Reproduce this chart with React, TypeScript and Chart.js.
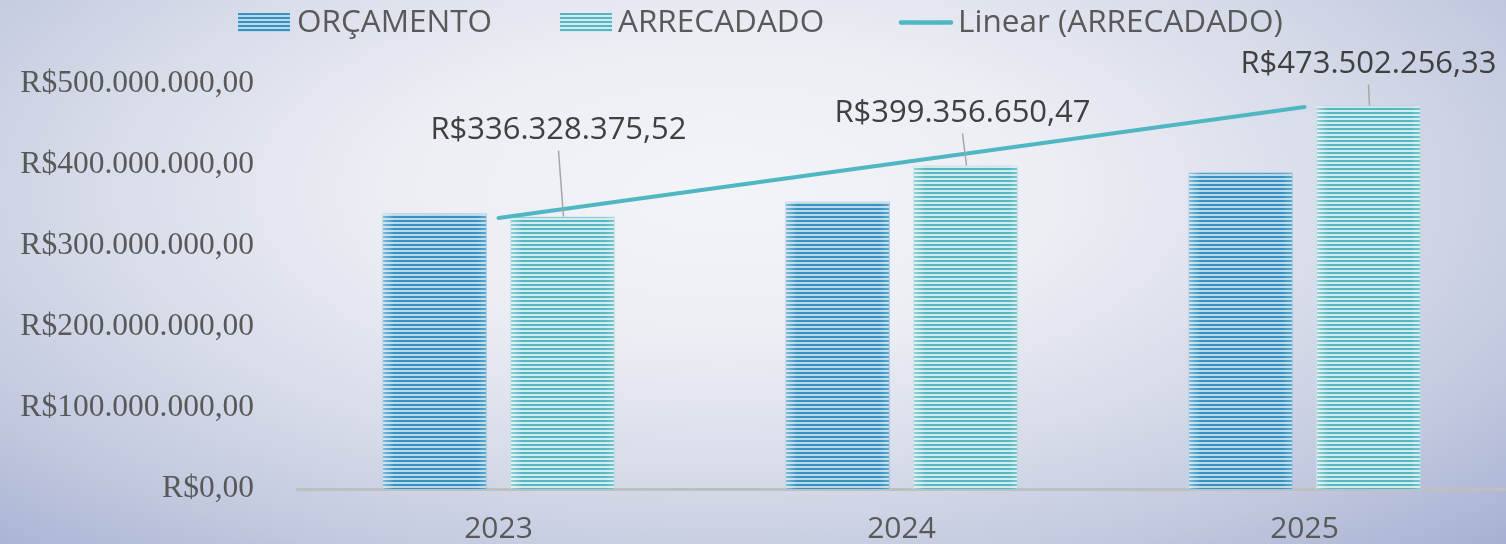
import React, { useEffect, useRef } from "react";
import { Chart, registerables } from "chart.js";

Chart.register(...registerables);

const categories = ["2023", "2024", "2025"];
const seriesNames = ["ORÇAMENTO", "ARRECADADO", "Linear (ARRECADADO)"];
const orcamento = [340500000, 355000000, 391000000];
const arrecadado = [336328375.52, 399356650.47, 473502256.33];
const tendencia = [334475487.03, 403062427.44, 471649367.85];
const arrecadadoLabels = ["R$336.328.375,52", "R$399.356.650,47", "R$473.502.256,33"];
const yTickValues = [0, 100000000, 200000000, 300000000, 400000000, 500000000];
const yTickLabels = [
  "R$0,00",
  "R$100.000.000,00",
  "R$200.000.000,00",
  "R$300.000.000,00",
  "R$400.000.000,00",
  "R$500.000.000,00",
];

// label placement (pixel offsets from bar top, styling only)
const labelDx = [-4, -3, 0];
const labelDy = [-86, -52, -41];
// legend layout (styling only): swatch start, swatch width, text start
const legendSwatchX = [238, 560, 899];
const legendSwatchW = [52, 52, 54];
const legendTextX = [297, 618, 958];

const SANS = "'Open Sans', 'DejaVu Sans', sans-serif";
const SERIF = "'Liberation Serif', 'DejaVu Serif', serif";

const BLUE = "#3592c1";
const BLUE_LIGHT = "#bcd9e9";
const TEAL = "#55b7c1";
const TEAL_LIGHT = "#d2ebee";
const TREND = "#4fb7c2";

function stripe(dark: string, light: string): CanvasPattern {
  const c = document.createElement("canvas");
  c.width = 4;
  c.height = 4;
  const g = c.getContext("2d")!;
  g.fillStyle = light;
  g.fillRect(0, 0, 4, 4);
  g.fillStyle = dark;
  g.fillRect(0, 0, 4, 2);
  return g.createPattern(c, "repeat")!;
}

function stripeSwatch(ctx: CanvasRenderingContext2D, x: number, y: number, w: number, h: number, dark: string, light: string) {
  ctx.fillStyle = light;
  ctx.fillRect(x, y, w, h);
  ctx.fillStyle = dark;
  for (let yy = y; yy < y + h; yy += 4) ctx.fillRect(x, yy, w, Math.min(2, y + h - yy));
}

const overlayPlugin = {
  id: "overlayPlugin",
  afterDatasetDraw(chart: any, args: any) {
    if (args.index > 1) return;
    const ctx = chart.ctx as CanvasRenderingContext2D;
    const meta = chart.getDatasetMeta(args.index);
    ctx.save();
    meta.data.forEach((bar: any) => {
      const p = bar.getProps(["x", "y", "base", "width"], true);
      if (!isFinite(p.width) || !isFinite(p.x)) return;
      const l = p.x - p.width / 2;
      const g = ctx.createLinearGradient(l, 0, l + p.width, 0);
      g.addColorStop(0, "rgba(255,255,255,0.4)");
      g.addColorStop(0.12, "rgba(255,255,255,0)");
      g.addColorStop(0.9, "rgba(255,255,255,0)");
      g.addColorStop(1, "rgba(255,255,255,0.22)");
      ctx.fillStyle = g;
      ctx.fillRect(l, p.y, p.width, p.base - p.y);
    });
    ctx.restore();
  },
  afterDatasetsDraw(chart: any) {
    const ctx = chart.ctx as CanvasRenderingContext2D;
    const meta = chart.getDatasetMeta(1);
    ctx.save();
    ctx.font = `31px ${SANS}`;
    ctx.textAlign = "center";
    ctx.textBaseline = "middle";
    meta.data.forEach((bar: any, i: number) => {
      const p = bar.getProps(["x", "y"], true);
      const lx = p.x + labelDx[i];
      const ly = p.y + labelDy[i];
      ctx.strokeStyle = "#a6a6a6";
      ctx.lineWidth = 1.5;
      ctx.beginPath();
      ctx.moveTo(lx, ly + 20);
      ctx.lineTo(p.x + 1, p.y);
      ctx.stroke();
      ctx.fillStyle = "#404040";
      ctx.fillText(arrecadadoLabels[i], lx, ly);
    });
    ctx.restore();
  },
  afterDraw(chart: any) {
    const ctx = chart.ctx as CanvasRenderingContext2D;
    ctx.save();
    ctx.font = `31.5px ${SANS}`;
    ctx.textBaseline = "middle";
    ctx.textAlign = "left";
    const cy = 23;
    const swatches = [
      { kind: "box", dark: BLUE, light: BLUE_LIGHT },
      { kind: "box", dark: TEAL, light: TEAL_LIGHT },
      { kind: "line", dark: TREND, light: TREND },
    ];
    swatches.forEach((s, i) => {
      const x = legendSwatchX[i];
      const w = legendSwatchW[i];
      if (s.kind === "box") {
        stripeSwatch(ctx, x, 13, w, 19, s.dark, s.light);
      } else {
        ctx.strokeStyle = s.dark;
        ctx.lineWidth = 4.5;
        ctx.lineCap = "round";
        ctx.beginPath();
        ctx.moveTo(x + 2, 22.5);
        ctx.lineTo(x + w - 2, 22.5);
        ctx.stroke();
      }
      ctx.fillStyle = "#595959";
      ctx.fillText(seriesNames[i], legendTextX[i], cy);
    });
    ctx.restore();
  },
};

export default function App() {
  const ref = useRef<HTMLCanvasElement | null>(null);

  useEffect(() => {
    if (!ref.current) return;
    const chart = new Chart(ref.current, {
      type: "bar",
      data: {
        labels: categories,
        datasets: [
          {
            label: seriesNames[0],
            data: orcamento,
            backgroundColor: stripe(BLUE, BLUE_LIGHT),
            borderColor: "rgba(120,180,212,0.7)",
            borderWidth: 1,
            order: 1,
          },
          {
            label: seriesNames[1],
            data: arrecadado,
            backgroundColor: stripe(TEAL, TEAL_LIGHT),
            borderColor: "rgba(150,205,210,0.7)",
            borderWidth: 1,
            order: 1,
          },
          {
            type: "line",
            label: seriesNames[2],
            data: tendencia,
            borderColor: TREND,
            borderWidth: 4,
            borderCapStyle: "round",
            pointRadius: 0,
            fill: false,
            order: 0,
          } as any,
        ] as any,
      },
      options: {
        animation: false,
        responsive: false,
        maintainAspectRatio: false,
        layout: { padding: { top: 84, left: 0, right: 0, bottom: 0 } },
        datasets: { bar: { categoryPercentage: 0.635, barPercentage: 0.82 } },
        plugins: { legend: { display: false }, tooltip: { enabled: false } },
        scales: {
          x: {
            grid: { display: false, drawTicks: false },
            border: { display: true, color: "#bfbfbf", width: 3 },
            ticks: { font: { family: SANS, size: 30 }, color: "#595959", padding: 22 },
            afterFit: (s: any) => {
              s.height = 55;
            },
          },
          y: {
            min: 0,
            max: 500000000,
            grid: { display: false, drawTicks: false },
            border: { display: false },
            afterBuildTicks: (s: any) => {
              s.ticks = yTickValues.map((v) => ({ value: v }));
            },
            ticks: {
              font: { family: SERIF, size: 31.5 },
              color: "#595959",
              padding: 43,
              callback: (v: any) => {
                const idx = yTickValues.indexOf(Number(v));
                return idx >= 0 ? yTickLabels[idx] : "";
              },
            },
            afterFit: (s: any) => {
              s.width = 297;
              s.paddingTop = 0;
              s.paddingBottom = 0;
            },
          },
        },
      },
      plugins: [overlayPlugin],
    });
    return () => chart.destroy();
  }, []);

  return (
    <div
      style={{
        position: "fixed",
        left: 0,
        top: 0,
        width: 1506,
        height: 544,
        overflow: "hidden",
        background:
          "radial-gradient(ellipse farthest-corner at 48% 35%, #f3f4f8 0%, #eceef4 30%, #d9ddea 55%, #c2c9df 78%, #a6b0d2 100%)",
      }}
    >
      <canvas ref={ref} width={1506} height={544} style={{ display: "block" }} />
    </div>
  );
}
